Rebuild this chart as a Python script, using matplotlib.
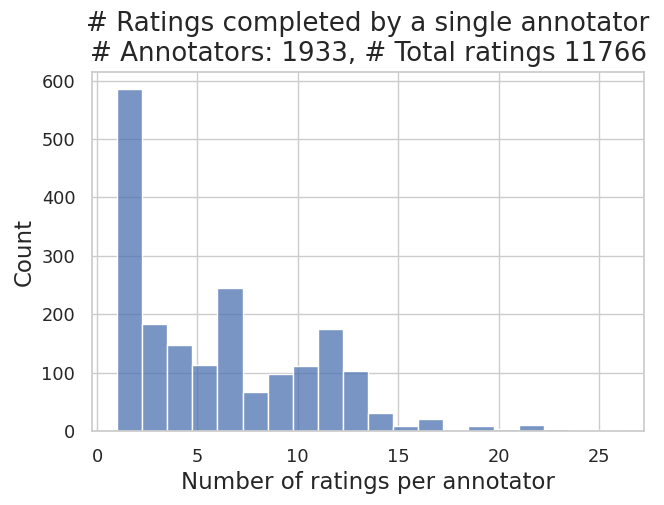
import numpy as np
import pandas as pd
import seaborn as sns
from matplotlib import pyplot as plt

# histogram: 20 bins from 1 to 26
bin_range = (1, 26)
n_bins = 20
# annotators per bin
counts = [585, 183, 147, 113, 244, 67, 97, 111, 175, 103,
          31, 9, 21, 0, 9, 3, 10, 4, 1, 2]
n_annotators = 1933
n_ratings = 11766

bin_edges = np.linspace(bin_range[0], bin_range[1], n_bins + 1)
df = pd.DataFrame({'n': (bin_edges[:-1] + bin_edges[1:]) / 2, 'count': counts})

sns.set_theme(style='whitegrid', font_scale=1.25)

fig = plt.figure(figsize=(6.64, 5.05), dpi=100)
ax = fig.add_axes([0.1386, 0.1465, 0.8314, 0.7105])
sns.histplot(data=df, x='n', weights='count', bins=n_bins, binrange=bin_range, ax=ax)
ax.set_xlabel('Number of ratings per annotator', fontsize=16.5)
ax.set_ylabel('Count', fontsize=16.5)
ax.tick_params(labelsize=12.8, pad=6)
ax.set_title('# Ratings completed by a single annotator\n'
             '# Annotators: %d, # Total ratings %d' % (n_annotators, n_ratings),
             fontsize=18.8, pad=8)

fig.savefig('out.png')
